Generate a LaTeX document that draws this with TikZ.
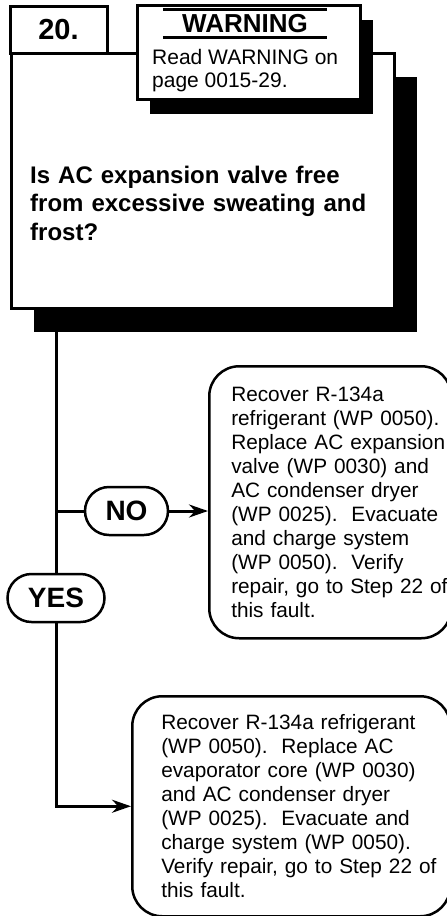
\documentclass[tikz,border=0pt]{standalone}
\usepackage{fontspec}
\setmainfont{Liberation Sans}
\usepackage{tikz}
\usetikzlibrary{arrows.meta, positioning, calc, shadows}

\begin{document}
\begin{tikzpicture}[
    x=1pt, y=-1pt,
    frame/.style={rectangle, draw, line width=3pt, fill=white, inner sep=0pt},
    blackshadow/.style 2 args={drop shadow={shadow xshift=#1, shadow yshift=#2,
                  opacity=1, fill=black}},
    answer/.style={rectangle, draw, line width=2.5pt, rounded corners=24pt,
                   fill=white, inner sep=0pt, minimum height=48pt,
                   font=\fontsize{28}{30}\selectfont\bfseries},
    action/.style={rectangle, draw, line width=2.5pt, rounded corners=30pt,
                   anchor=north west, inner sep=0pt, align=left,
                   font=\fontsize{20.8}{24}\selectfont},
    line/.style={line width=3pt},
    arrow/.style={line width=3pt, -{Stealth[length=19pt, width=13pt]}}
]

\useasboundingbox (0,0) rectangle (447,916);

% Question box
\node[frame, blackshadow={23pt}{-24pt}, minimum width=383pt, minimum height=255pt]
    (qbox) at (202.5,180.5) {};
\node[anchor=west, inner sep=0pt, text width=350pt, align=left,
      font=\fontsize{24}{28.5}\selectfont\bfseries] (question) at (30,203) {
    Is AC expansion valve free\\
    from excessive sweating and\\
    frost?
};

% Step number
\node[frame, minimum width=97pt, minimum height=47pt,
      font=\fontsize{29}{30}\selectfont\bfseries] (stepnum) at (58.5,29.5) {20.};

% Warning
\node[frame, blackshadow={13pt}{-15pt}, minimum width=223pt, minimum height=94pt]
    (warnbox) at (248.5,52) {};
\node[inner sep=0pt, minimum width=164pt, minimum height=27pt,
      font=\fontsize{26}{27}\selectfont\bfseries] (warnhead) at (245,23.5) {WARNING};
\draw[line] (warnhead.north west) -- (warnhead.north east);
\draw[line] (warnhead.south west) -- (warnhead.south east);
\node[anchor=west, inner sep=0pt, align=left,
      font=\fontsize{21}{23}\selectfont] (warntext) at (152,71) {
    Read WARNING on\\
    page 0015-29.
};

% Answers
\node[answer, minimum width=83pt] (no) at (126.5,511) {NO};
\node[answer, minimum width=97pt] (yes) at (56,598) {YES};

% Actions
\node[action, text width=198pt, inner xsep=22pt, minimum height=272pt]
    (fixvalve) at (208,365) {
    Recover R-134a\\
    \mbox{refrigerant (WP 0050).}\\
    \mbox{Replace AC expansion}\\
    \mbox{valve (WP 0030) and}\\
    AC condenser dryer\\
    \mbox{(WP 0025).\ \ Evacuate}\\
    and charge system\\
    (WP 0050).\ \ Verify\\
    \mbox{repair, go to Step 22 of}\\
    this fault.
};
\node[action, text width=260pt, inner xsep=29pt, minimum height=220pt]
    (fixcore) at (131,695) {
    Recover R-134a refrigerant\\
    (WP 0050).\ \ Replace AC\\
    evaporator core (WP 0030)\\
    and AC condenser dryer\\
    (WP 0025).\ \ Evacuate and\\
    charge system (WP 0050).\\
    \mbox{Verify repair, go to Step 22 of}\\
    this fault.
};

% Connectors
\draw[line] (yes.north) -- (yes.north |- qbox.south);
\draw[line] (no.west) -- (no.west -| yes.north);
\draw[arrow] (no.east) -- (no.east -| fixvalve.west);
\draw[arrow] (yes.south) |- (fixcore.west);

\end{tikzpicture}
\end{document}
